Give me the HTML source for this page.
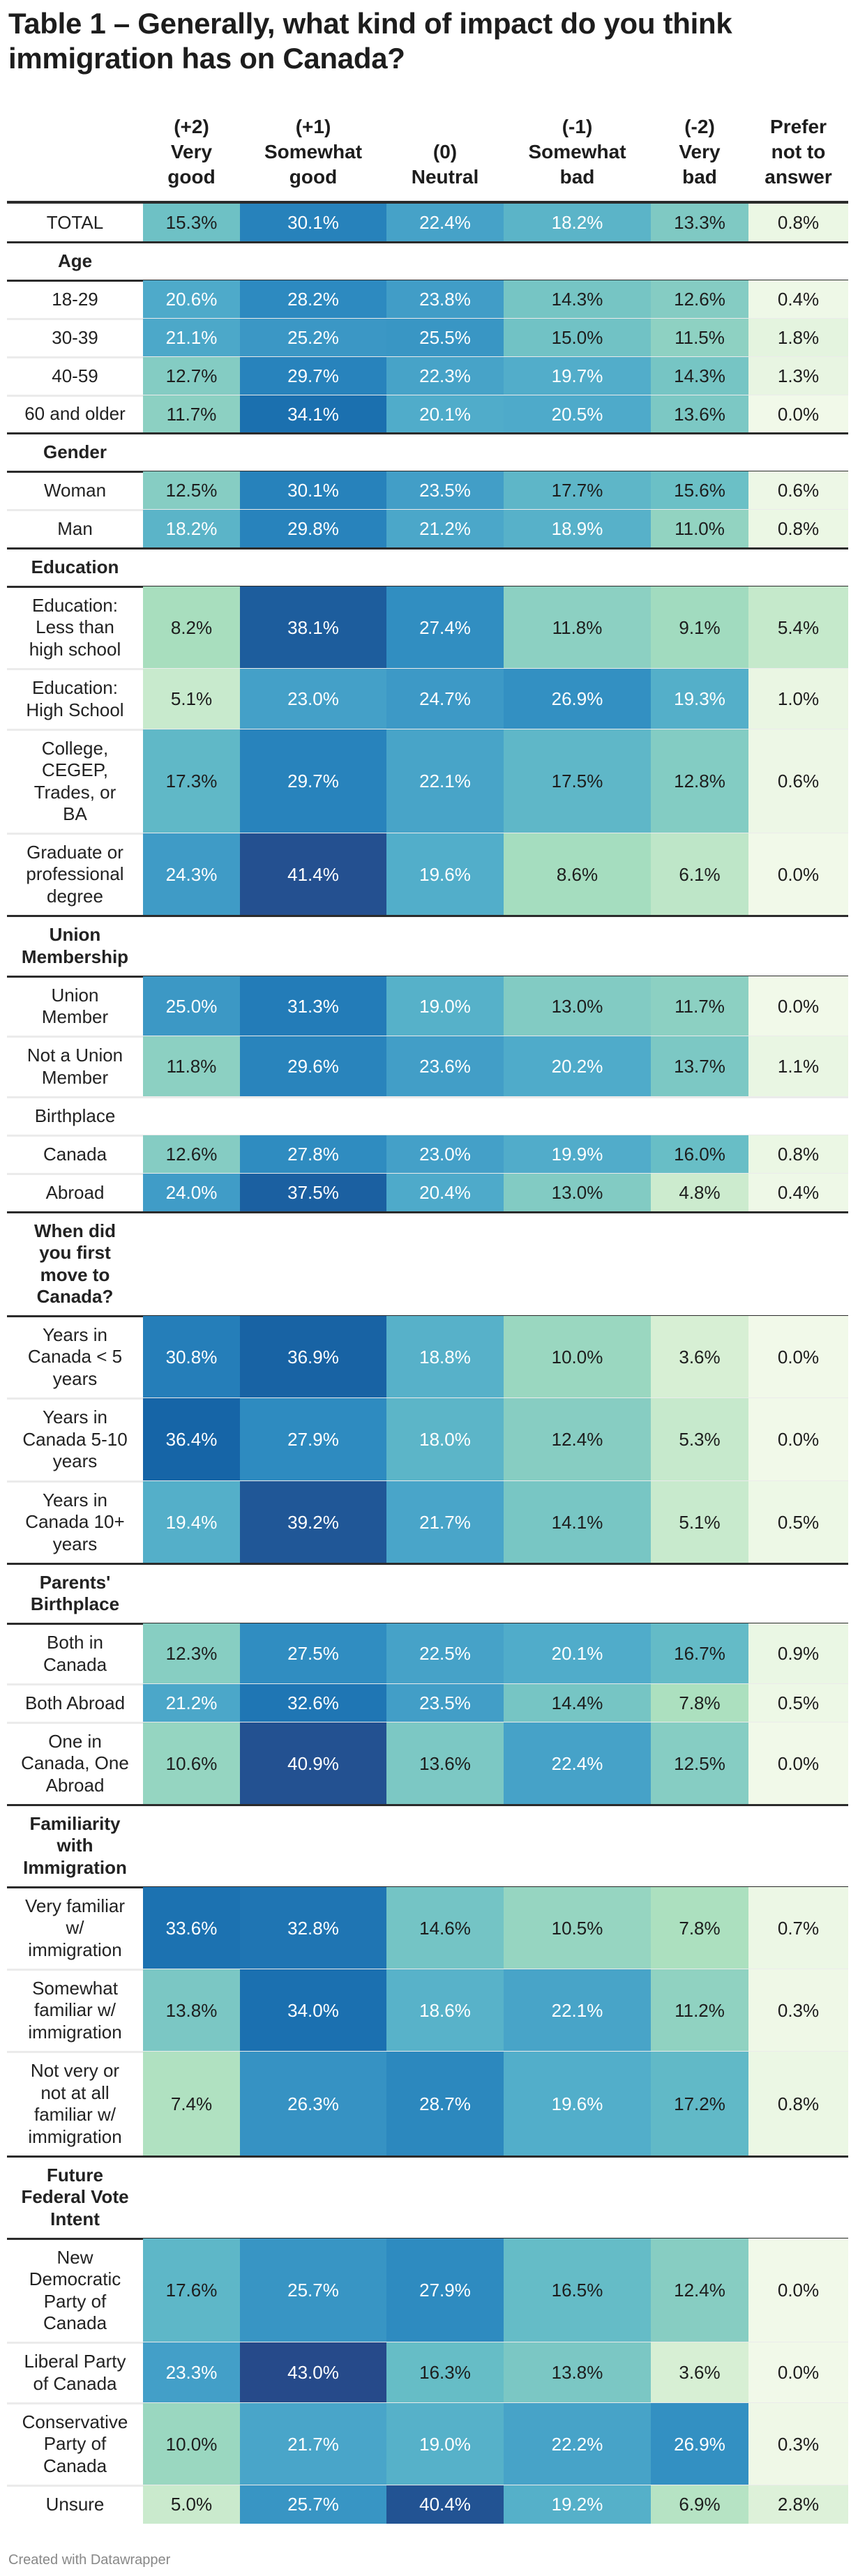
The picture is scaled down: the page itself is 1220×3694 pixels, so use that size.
<!DOCTYPE html>
<html><head><meta charset="utf-8">
<style>
html,body{margin:0;padding:0;background:#fff;}
body{width:1220px;height:3694px;position:relative;overflow:hidden;font-family:"Liberation Sans",sans-serif;color:#222;}
#title{position:absolute;left:12px;top:9px;font-size:42px;line-height:50px;font-weight:bold;color:#1d1d1d;white-space:nowrap;letter-spacing:-0.3px;}
.colhead{position:absolute;top:164px;height:108px;display:flex;flex-direction:column;justify-content:flex-end;text-align:center;font-weight:bold;font-size:28px;line-height:36px;color:#1d1d1d;}
#rows{position:absolute;left:10px;top:289px;width:1206px;}
.row{position:relative;box-sizing:border-box;width:1206px;}
.lab{position:absolute;left:0;top:0;width:195px;height:100%;display:flex;align-items:center;justify-content:center;text-align:center;font-size:26px;line-height:31.5px;}
.sec .lab{font-weight:bold;}
.cell{position:absolute;top:0;display:flex;align-items:center;justify-content:center;font-size:26px;}
.line{position:absolute;left:0;width:1206px;}
#footer{position:absolute;left:12px;top:3660px;font-size:20px;color:#888;}
</style></head>
<body>
<div id="title">Table 1 – Generally, what kind of impact do you think<br>immigration has on Canada?</div>
<div id="heads"></div>
<div id="rows"></div>
<div id="footer">Created with Datawrapper</div>
<script>
// ---- data ----
const columnLabels = ["(+2)<br>Very<br>good","(+1)<br>Somewhat<br>good","(0)<br>Neutral","(-1)<br>Somewhat<br>bad","(-2)<br>Very<br>bad","Prefer<br>not to<br>answer"];
const rowLabels = ["TOTAL","Age","18-29","30-39","40-59","60 and older","Gender","Woman","Man","Education",
"Education:<br>Less than<br>high school","Education:<br>High School","College,<br>CEGEP,<br>Trades, or<br>BA","Graduate or<br>professional<br>degree",
"Union<br>Membership","Union<br>Member","Not a Union<br>Member","Birthplace","Canada","Abroad",
"When did<br>you first<br>move to<br>Canada?","Years in<br>Canada &lt; 5<br>years","Years in<br>Canada 5-10<br>years","Years in<br>Canada 10+<br>years",
"Parents'<br>Birthplace","Both in<br>Canada","Both Abroad","One in<br>Canada, One<br>Abroad",
"Familiarity<br>with<br>Immigration","Very familiar<br>w/<br>immigration","Somewhat<br>familiar w/<br>immigration","Not very or<br>not at all<br>familiar w/<br>immigration",
"Future<br>Federal Vote<br>Intent","New<br>Democratic<br>Party of<br>Canada","Liberal Party<br>of Canada","Conservative<br>Party of<br>Canada","Unsure"];
// row kind: d=data, s=bold section header, p=plain empty row
const rowKinds = ["d","s","d","d","d","d","s","d","d","s","d","d","d","d","s","d","d","p","d","d","s","d","d","d","s","d","d","d","s","d","d","d","s","d","d","d","d"];
// bottom separator: D=dark, L=light, N=none
const rowSeps = ["D","D","L","L","L","D","D","L","D","D","L","L","L","D","D","L","L","L","L","D","D","L","L","D","D","L","L","D","D","L","L","D","D","L","L","L","N"];
const veryGood     = [15.3,null,20.6,21.1,12.7,11.7,null,12.5,18.2,null,8.2,5.1,17.3,24.3,null,25.0,11.8,null,12.6,24.0,null,30.8,36.4,19.4,null,12.3,21.2,10.6,null,33.6,13.8,7.4,null,17.6,23.3,10.0,5.0];
const somewhatGood = [30.1,null,28.2,25.2,29.7,34.1,null,30.1,29.8,null,38.1,23.0,29.7,41.4,null,31.3,29.6,null,27.8,37.5,null,36.9,27.9,39.2,null,27.5,32.6,40.9,null,32.8,34.0,26.3,null,25.7,43.0,21.7,25.7];
const neutral      = [22.4,null,23.8,25.5,22.3,20.1,null,23.5,21.2,null,27.4,24.7,22.1,19.6,null,19.0,23.6,null,23.0,20.4,null,18.8,18.0,21.7,null,22.5,23.5,13.6,null,14.6,18.6,28.7,null,27.9,16.3,19.0,40.4];
const somewhatBad  = [18.2,null,14.3,15.0,19.7,20.5,null,17.7,18.9,null,11.8,26.9,17.5,8.6,null,13.0,20.2,null,19.9,13.0,null,10.0,12.4,14.1,null,20.1,14.4,22.4,null,10.5,22.1,19.6,null,16.5,13.8,22.2,19.2];
const veryBad      = [13.3,null,12.6,11.5,14.3,13.6,null,15.6,11.0,null,9.1,19.3,12.8,6.1,null,11.7,13.7,null,16.0,4.8,null,3.6,5.3,5.1,null,16.7,7.8,12.5,null,7.8,11.2,17.2,null,12.4,3.6,26.9,6.9];
const preferNot    = [0.8,null,0.4,1.8,1.3,0.0,null,0.6,0.8,null,5.4,1.0,0.6,0.0,null,0.0,1.1,null,0.8,0.4,null,0.0,0.0,0.5,null,0.9,0.5,0.0,null,0.7,0.3,0.8,null,0.0,0.0,0.3,2.8];
const series = [veryGood,somewhatGood,neutral,somewhatBad,veryBad,preferNot];

// ---- layout ----
const colEdges = [195,334,544,712,923,1063,1206];
const stops = [[0,[241,249,233]],[4,[212,238,210]],[8,[170,223,190]],[12,[138,207,194]],[16,[104,190,198]],[20,[80,172,202]],[24,[64,156,199]],[28,[46,139,192]],[32,[33,121,182]],[36,[21,103,169]],[39,[32,88,152]],[43,[38,74,138]]];
function colorScale(v){
  if(v<=stops[0][0]) return stops[0][1];
  for(let i=1;i<stops.length;i++){
    if(v<=stops[i][0]){
      const a=stops[i-1],b=stops[i],t=(v-a[0])/(b[0]-a[0]);
      return a[1].map((c,k)=>Math.round(c+(b[1][k]-c)*t));
    }
  }
  return stops[stops.length-1][1];
}
function rowHeight(label){const n=label.split("<br>").length;return 31.6*n+23.3;}

const heads=document.getElementById('heads');
columnLabels.forEach((lab,i)=>{
  const d=document.createElement('div');
  d.className='colhead';
  d.style.left=(10+colEdges[i])+'px';
  d.style.width=(colEdges[i+1]-colEdges[i])+'px';
  d.innerHTML='<div>'+lab+'</div>';
  
  
  heads.appendChild(d);
});
const topLine=document.createElement('div');
topLine.className='line';
topLine.style.cssText='position:absolute;left:10px;top:288px;width:1206px;height:4px;background:#2b2b2b;';


document.body.appendChild(topLine);

const rows=document.getElementById('rows');
let y=3;
rowLabels.forEach((lab,r)=>{
  const y0=Math.round(y);
  y+=rowHeight(lab);
  const h=Math.round(y)-y0;
  const row=document.createElement('div');
  row.className='row'+(rowKinds[r]==='s'?' sec':'');
  row.style.height=h+'px';
  row.style.position='absolute';
  row.style.top=y0+'px';
  
  
  const l=document.createElement('div');
  l.className='lab';
  l.innerHTML='<div>'+lab+'</div>';
  
  
  row.appendChild(l);
  if(rowKinds[r]==='d'){
    series.forEach((s,c)=>{
      const v=s[r];
      const cell=document.createElement('div');
      cell.className='cell';
      cell.style.left=colEdges[c]+'px';
      cell.style.width=(colEdges[c+1]-colEdges[c])+'px';
      cell.style.height=h+'px';
      const rgb=colorScale(v);
      cell.style.background='rgb('+rgb.join(',')+')';
      cell.style.color=v>=17.9?'#fff':'#1d1d1d';
      cell.textContent=v.toFixed(1)+'%';
      
      
      row.appendChild(cell);
    });
  }
  rows.appendChild(row);
  if(rowSeps[r]!=='N'){
    const ln=document.createElement('div');
    ln.className='line';
    const dark=rowSeps[r]==='D';
    ln.style.top=(Math.round(y)-1)+'px';
    ln.style.height='3px';
    ln.style.background=dark?'#2b2b2b':'#ebebeb';
    
    
    rows.appendChild(ln);
  }
});
</script>
</body></html>
